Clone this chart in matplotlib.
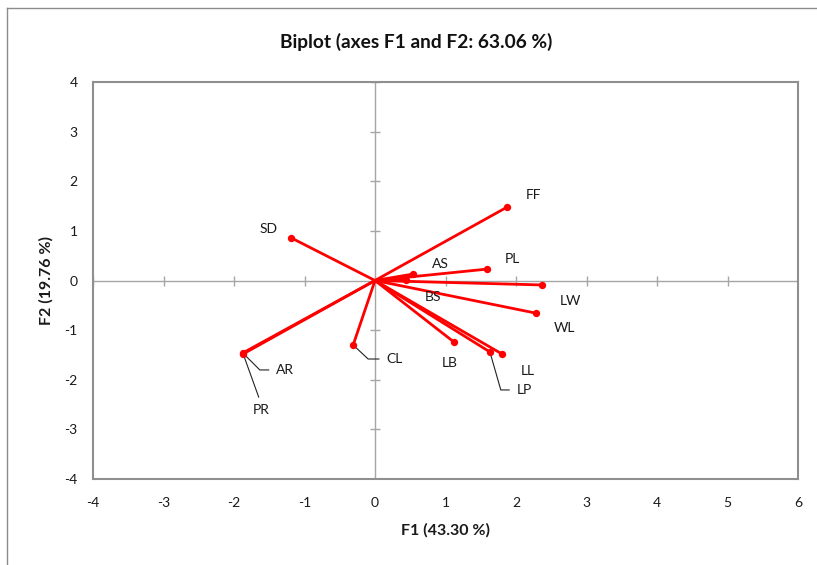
import matplotlib
matplotlib.use("Agg")
import matplotlib.pyplot as plt
from matplotlib.lines import Line2D

plt.rcParams['font.family'] = ['Lato', 'DejaVu Sans']

# Variables (F1, F2 loadings)
names = ["FF", "SD", "PL", "AS", "BS", "LW", "WL", "LB", "LL", "LP", "CL", "AR", "PR"]
f1 = [1.875, -1.19, 1.59, 0.54, 0.44, 2.37, 2.29, 1.12, 1.80, 1.63, -0.31, -1.875, -1.87]
f2 = [1.48, 0.86, 0.23, 0.13, 0.01, -0.09, -0.66, -1.24, -1.48, -1.44, -1.30, -1.46, -1.48]

xticks = [-4, -3, -2, -1, 0, 1, 2, 3, 4, 5, 6]
yticks = [-4, -3, -2, -1, 0, 1, 2, 3, 4]

title = "Biplot (axes F1 and F2: 63.06 %)"
xlabel = "F1 (43.30 %)"
ylabel = "F2 (19.76 %)"

# label placement (offset pixels) and leader styles
label_offsets = {
    "FF": (26, 12), "SD": (-23, 9), "PL": (25, 10), "AS": (27, 10),
    "BS": (27, -17), "LW": (28, -16), "WL": (28, -15), "LB": (-4, -21),
    "LL": (26, -17), "LP": (34, -38), "CL": (41, -14), "AR": (42, -17),
    "PR": (18, -56),
}
leaders = {
    "LP": dict(relpos=(0, 0.5), connectionstyle="angle,angleA=0,angleB=-74,rad=0"),
    "CL": dict(relpos=(0, 0.5), connectionstyle="angle,angleA=0,angleB=-43,rad=0"),
    "AR": dict(relpos=(0, 0.5), connectionstyle="angle,angleA=0,angleB=-45,rad=0"),
    "PR": dict(relpos=(0.5, 1.0), connectionstyle="arc3,rad=0"),
}

W, H = 817, 565
fig = plt.figure(figsize=(W / 100, H / 100), dpi=100)
ax = fig.add_axes([93 / W, 1 - 479 / H, (798 - 93) / W, (479 - 82) / H])

frame_col = "#8f8f8f"
axis_col = "#a6a6a6"
text_col = "#1a1a1a"

# centre axes with crossing ticks
ax.axhline(0, color=axis_col, lw=1.0, zorder=1)
ax.axvline(0, color=axis_col, lw=1.0, zorder=1)
ax.plot(xticks, [0] * len(xticks), ls="none", marker="|", ms=7, mew=1.0, color=axis_col, zorder=1)
ax.plot([0] * len(yticks), yticks, ls="none", marker="_", ms=7, mew=1.0, color=axis_col, zorder=1)

red = "#ff0000"
for x, y in zip(f1, f2):
    ax.plot([0, x], [0, y], color=red, lw=2.0, solid_capstyle="round", zorder=3)
ax.scatter(f1, f2, s=28, color=red, zorder=4, linewidths=0)

for n, x, y in zip(names, f1, f2):
    dx, dy = label_offsets[n]
    kw = {}
    if n in leaders:
        ld = leaders[n]
        kw["arrowprops"] = dict(arrowstyle="-", color="#222222", lw=0.8,
                                relpos=ld["relpos"], shrinkA=3, shrinkB=1,
                                connectionstyle=ld["connectionstyle"])
    ax.annotate(n, (x, y), xytext=(dx, dy), textcoords="offset pixels",
                ha="center", va="center", fontsize=10, color=text_col, **kw)

ax.set_xlim(xticks[0], xticks[-1])
ax.set_ylim(yticks[0], yticks[-1])
ax.set_xticks(xticks)
ax.set_yticks(yticks)
ax.set_xticklabels([str(t) for t in xticks])
ax.set_yticklabels([str(t) for t in yticks])
ax.tick_params(length=0, labelsize=10, colors=text_col)
ax.tick_params(axis="x", pad=13)
ax.tick_params(axis="y", pad=11)
for s in ax.spines.values():
    s.set_color(frame_col)
    s.set_linewidth(1.5)

ax.set_xlabel(xlabel, fontsize=11.5, fontweight="bold", labelpad=10, color=text_col)
ax.set_ylabel(ylabel, fontsize=11.5, fontweight="bold", labelpad=8, color=text_col)

fig.text(416 / W, 1 - 42 / H, title, ha="center", va="center", fontsize=13.8,
         fontweight="bold", color="#111111")

# outer chart border (top and left visible)
fig.add_artist(Line2D([7 / W, 7 / W], [0, 1 - 8 / H], transform=fig.transFigure,
                      color="#8c8c8c", lw=1.0))
fig.add_artist(Line2D([7 / W, 1], [1 - 8 / H, 1 - 8 / H], transform=fig.transFigure,
                      color="#8c8c8c", lw=1.0))

fig.savefig("out.png", dpi=100, facecolor="white")
